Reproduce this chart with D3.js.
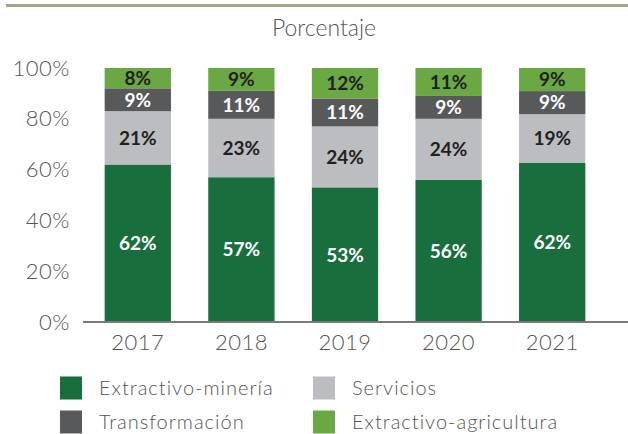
<!DOCTYPE html>
<html>
<head>
<meta charset="utf-8">
<script src="https://cdn.jsdelivr.net/npm/d3@7"></script>
<style>
  body { margin: 0; background: #fff; }
  text { font-family: Lato, "Open Sans", sans-serif; }
</style>
</head>
<body>
<svg id="chart" width="628" height="434"></svg>
<script>
// datos
var years = ["2017", "2018", "2019", "2020", "2021"];
var mineria = [62, 57, 53, 56, 62];
var servicios = [21, 23, 24, 24, 19];
var transformacion = [9, 11, 11, 9, 9];
var agricultura = [8, 9, 12, 11, 9];
var yTicks = [0, 0.2, 0.4, 0.6, 0.8, 1];

var series = [
  {key: "mineria", name: "Extractivo-minería", values: mineria, color: "#186f3d", txt: "#fff"},
  {key: "servicios", name: "Servicios", values: servicios, color: "#bcbdc0", txt: "#231f20"},
  {key: "transformacion", name: "Transformación", values: transformacion, color: "#58595b", txt: "#fff"},
  {key: "agricultura", name: "Extractivo-agricultura", values: agricultura, color: "#69a842", txt: "#231f20"}
];

var rows = years.map(function(y, i) {
  var r = {year: y};
  series.forEach(function(s) { r[s.key] = s.values[i]; });
  return r;
});

var svg = d3.select("#chart");

// linea superior
svg.append("rect").attr("x", 6).attr("y", 4).attr("width", 622).attr("height", 3).attr("fill", "#9ba68d");

svg.append("text")
  .attr("x", 324).attr("y", 36)
  .attr("text-anchor", "middle")
  .attr("font-size", 23)
  .attr("font-weight", 300)
  .attr("fill", "#555")
  .text("Porcentaje");

var x = d3.scaleBand().domain(years).range([86, 604]).paddingInner(0.36).paddingOuter(0.18);
var y = d3.scaleLinear().domain([0, 1]).range([322, 68]);

var stack = d3.stack().keys(series.map(function(s) { return s.key; })).offset(d3.stackOffsetExpand);
var stacked = stack(rows);

// eje y
var yAxis = svg.append("g").attr("transform", "translate(70,0)")
  .call(d3.axisLeft(y).tickValues(yTicks).tickFormat(d3.format(".0%")).tickSize(0).tickPadding(0));
yAxis.select(".domain").remove();
yAxis.selectAll("text")
  .attr("font-family", "Lato, sans-serif")
  .attr("font-size", 22)
  .attr("font-weight", 300)
  .attr("fill", "#555")
  .attr("letter-spacing", 0.5);

// barras
var layers = svg.append("g").selectAll("g")
  .data(stacked)
  .enter().append("g")
  .attr("fill", function(d, i) { return series[i].color; });

layers.selectAll("rect")
  .data(function(d) { return d; })
  .enter().append("rect")
  .attr("x", function(d) { return x(d.data.year); })
  .attr("y", function(d) { return y(d[1]); })
  .attr("height", function(d) { return y(d[0]) - y(d[1]); })
  .attr("width", x.bandwidth());

// etiquetas
stacked.forEach(function(layer, i) {
  svg.append("g").selectAll("text")
    .data(layer)
    .enter().append("text")
    .attr("x", function(d) { return x(d.data.year) + x.bandwidth() / 2; })
    .attr("y", function(d) { return (y(d[0]) + y(d[1])) / 2; })
    .attr("dy", "0.36em")
    .attr("text-anchor", "middle")
    .attr("font-size", 19)
    .attr("font-weight", 700)
    .attr("fill", series[i].txt)
    .text(function(d) { return d.data[series[i].key] + "%"; });
});

// eje x
svg.append("line").attr("x1", 83).attr("x2", 628).attr("y1", 322).attr("y2", 322)
  .attr("stroke", "#7a7a7a").attr("stroke-width", 2);

var xAxis = svg.append("g").attr("transform", "translate(0,334)")
  .call(d3.axisBottom(x).tickSize(0).tickPadding(0));
xAxis.select(".domain").remove();
xAxis.selectAll("text")
  .attr("font-family", "Lato, sans-serif")
  .attr("font-size", 22)
  .attr("font-weight", 300)
  .attr("fill", "#555")
  .attr("letter-spacing", 0.5);

// leyenda
var legendPos = [[60, 388], [313, 388], [60, 422], [313, 422]];
var lg = svg.append("g").selectAll("g")
  .data([0, 1, 2, 3])
  .enter().append("g")
  .attr("transform", function(d, i) { return "translate(" + legendPos[i][0] + "," + legendPos[i][1] + ")"; });
lg.append("rect").attr("x", 0).attr("y", -11.5).attr("width", 22).attr("height", 23)
  .attr("fill", function(d) { return series[d].color; });
lg.append("text")
  .attr("x", 39)
  .attr("dy", "0.36em")
  .attr("font-size", 20)
  .attr("font-weight", 300)
  .attr("letter-spacing", 1)
  .attr("fill", "#555")
  .text(function(d) { return series[d].name; });
</script>
</body>
</html>
